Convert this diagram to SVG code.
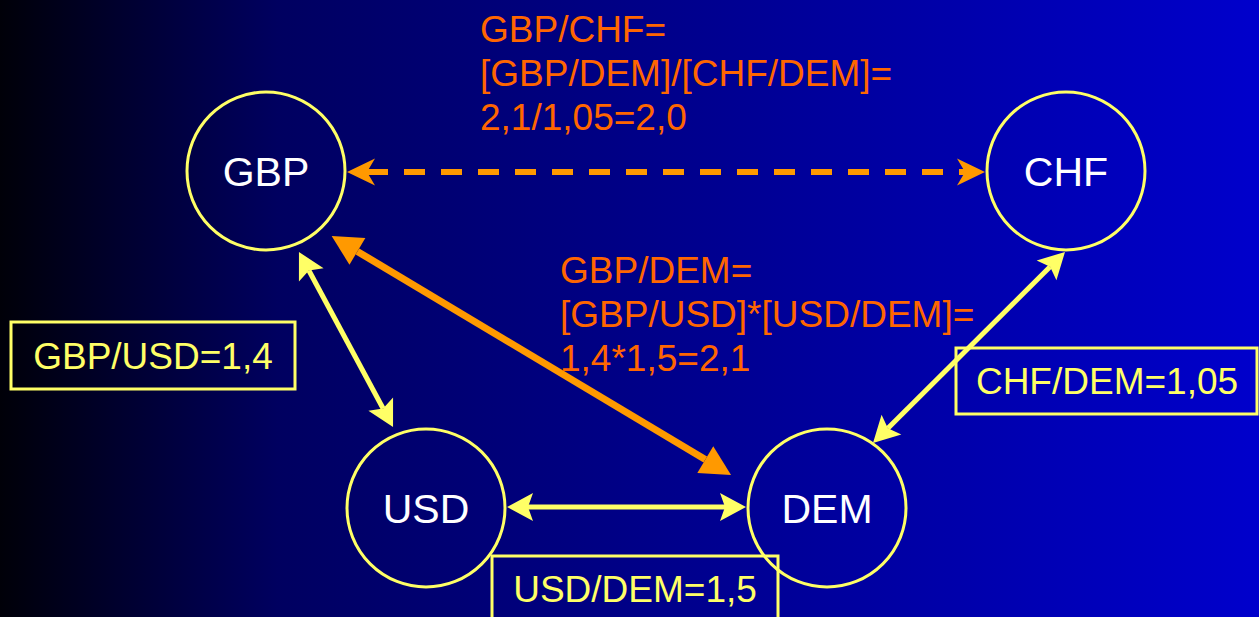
<svg xmlns="http://www.w3.org/2000/svg" width="1259" height="617" viewBox="0 0 1259 617">
  <defs>
    <linearGradient id="bg" x1="0" y1="0" x2="1" y2="0">
      <stop offset="0" stop-color="#000008"/>
      <stop offset="0.22" stop-color="#000060"/>
      <stop offset="1" stop-color="#0000CC"/>
    </linearGradient>
    <!-- stealth arrowheads; origin sits at the notch so the line ends inside the head -->
    <marker id="headY" markerUnits="userSpaceOnUse" viewBox="-7 -15 30 30" markerWidth="30" markerHeight="30" refX="0" refY="0" orient="auto-start-reverse">
      <path d="M21,0 L-5,-14 L0,0 L-5,14 Z" fill="#FFFF66"/>
    </marker>
    <!-- plain triangle head; origin at the middle of its base -->
    <marker id="headO" markerUnits="userSpaceOnUse" viewBox="-2 -17 34 34" markerWidth="34" markerHeight="34" refX="0" refY="0" orient="auto-start-reverse">
      <path d="M30,0 L0,-15.5 L0,15.5 Z" fill="#FF9900"/>
    </marker>
    <marker id="headOd" markerUnits="userSpaceOnUse" viewBox="-10 -15 32 30" markerWidth="32" markerHeight="30" refX="0" refY="0" orient="auto-start-reverse">
      <path d="M20,0 L-8,-13.5 L0,0 L-8,13.5 Z" fill="#FF9900"/>
    </marker>
    <style>
      .node circle { fill: none; stroke: #FFFF66; stroke-width: 3; }
      .node text { fill: #FFFFFF; font-family: "Liberation Sans", Arial, sans-serif; font-size: 41px; text-anchor: middle; }
      .rate rect { fill: none; stroke: #FFFF66; stroke-width: 3; }
      .rate text { fill: #FFFF66; font-family: "Liberation Sans", Arial, sans-serif; font-size: 37px; text-anchor: middle; }
      .calc { fill: #FF6600; font-family: "Liberation Sans", Arial, sans-serif; font-size: 37px; }
      .yel { stroke: #FFFF66; stroke-width: 5; fill: none; marker-start: url(#headY); marker-end: url(#headY); }
      .org { stroke: #FF9900; stroke-width: 7; fill: none; marker-start: url(#headO); marker-end: url(#headO); }
      .dash { stroke: #FF9900; stroke-width: 6; fill: none; stroke-dasharray: 21 16; marker-start: url(#headOd); marker-end: url(#headOd); }
    </style>
  </defs>

  <rect x="0" y="0" width="1259" height="617" fill="url(#bg)"/>

  <!-- currency nodes -->
  <g id="node-gbp" class="node">
    <circle cx="266" cy="171" r="79"/>
    <text x="266" y="186">GBP</text>
  </g>
  <g id="node-chf" class="node">
    <circle cx="1066" cy="171" r="79"/>
    <text x="1066" y="186">CHF</text>
  </g>
  <g id="node-usd" class="node">
    <circle cx="426" cy="508" r="79"/>
    <text x="426" y="523">USD</text>
  </g>
  <g id="node-dem" class="node">
    <circle cx="827" cy="508" r="79"/>
    <text x="827" y="523">DEM</text>
  </g>

  <!-- exchange-rate links -->
  <g id="connectors">
    <line class="dash" x1="367" y1="172" x2="965" y2="172"/>
    <line class="yel" x1="308.9" y1="270.5" x2="383.1" y2="408.5"/>
    <line class="org" x1="357.4" y1="251.4" x2="705.3" y2="459.6"/>
    <line class="yel" x1="528" y1="507" x2="725" y2="507"/>
    <line class="yel" x1="1050.1" y1="266.8" x2="887.9" y2="428.2"/>
  </g>

  <!-- quoted rates -->
  <g id="rate-gbp-usd" class="rate">
    <rect x="11" y="322" width="284" height="67"/>
    <text x="153" y="369">GBP/USD=1,4</text>
  </g>
  <g id="rate-usd-dem" class="rate">
    <rect x="492" y="556" width="286" height="72"/>
    <text x="635" y="602">USD/DEM=1,5</text>
  </g>
  <g id="rate-chf-dem" class="rate">
    <rect x="956" y="348" width="301" height="66"/>
    <text x="1107" y="394">CHF/DEM=1,05</text>
  </g>

  <!-- derived cross rates -->
  <g id="calc-gbp-chf" class="calc">
    <text x="480" y="42">GBP/CHF=</text>
    <text x="480" y="86">[GBP/DEM]/[CHF/DEM]=</text>
    <text x="480" y="130">2,1/1,05=2,0</text>
  </g>
  <g id="calc-gbp-dem" class="calc">
    <text x="560" y="283">GBP/DEM=</text>
    <text x="560" y="327">[GBP/USD]*[USD/DEM]=</text>
    <text x="560" y="371">1,4*1,5=2,1</text>
  </g>
</svg>
